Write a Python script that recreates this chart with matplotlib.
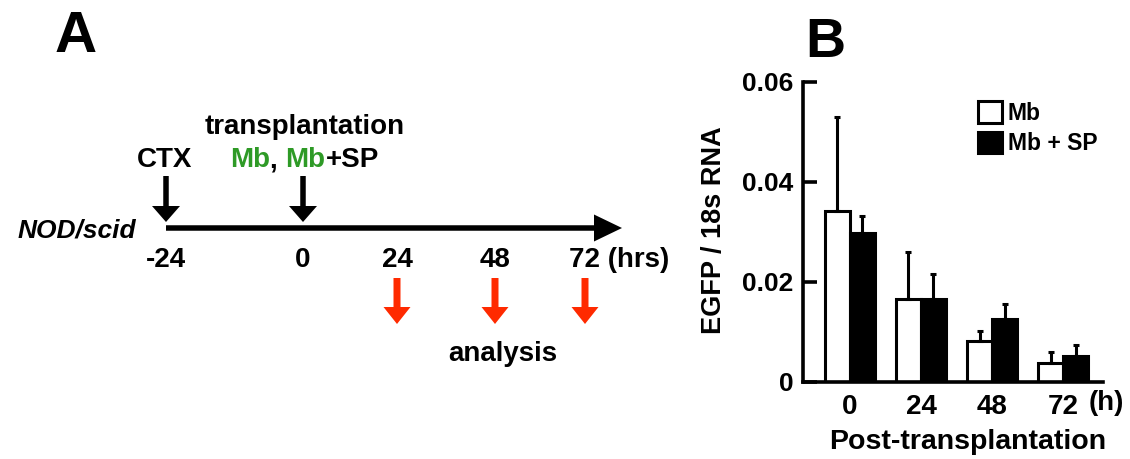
import matplotlib
matplotlib.use("Agg")
import matplotlib.pyplot as plt
from matplotlib.patches import FancyArrow, Patch

plt.rcParams['font.family'] = ['Liberation Sans', 'DejaVu Sans']

# ---- panel B data ----
timepoints = ['0', '24', '48', '72']
mb_mean = [0.0341, 0.0165, 0.0081, 0.0037]
mb_err = [0.0188, 0.0095, 0.0021, 0.0022]
mbsp_mean = [0.0297, 0.0165, 0.0125, 0.0052]
mbsp_err = [0.0034, 0.0050, 0.0031, 0.0022]
yticks = [0, 0.02, 0.04, 0.06]
ytick_labels = ['0', '0.02', '0.04', '0.06']

# ---- panel A schematic ----
time_labels = ['-24', '0', '24', '48', '72']
time_x = [166, 303, 397, 495, 585]      # schematic is not drawn to scale
analysis_idx = [2, 3, 4]

GREEN = '#2e9a26'
RED = '#ff2a00'

fig = plt.figure(figsize=(11.3, 4.59), dpi=100)

# schematic drawn in pixel units on a full-figure axes
axA = fig.add_axes([0, 0, 1, 1])
axA.set_xlim(0, 1130)
axA.set_ylim(459, 0)
axA.axis('off')

def down_arrow(x, y0, y1, color, shaft=5.5, hw=28, hl=16):
    axA.add_patch(FancyArrow(x, y0, 0, y1 - y0, width=shaft, head_width=hw,
                             head_length=hl, length_includes_head=True,
                             color=color, lw=0))

# timeline
axA.add_patch(FancyArrow(time_x[0], 228, 622 - time_x[0], 0, width=5.5,
                         head_width=27, head_length=28,
                         length_includes_head=True, color='black', lw=0))
down_arrow(time_x[0], 176, 222, 'black')
down_arrow(time_x[1], 176, 222, 'black')
for i in analysis_idx:
    down_arrow(time_x[i], 278, 324, RED, shaft=7, hw=27, hl=17)

for i, lab in enumerate(time_labels):
    if lab == '72':
        axA.text(time_x[i] - 16, 267, '72 (hrs)', fontsize=20,
                 fontweight='bold', ha='left', va='baseline')
    else:
        axA.text(time_x[i], 267, lab, fontsize=20, fontweight='bold',
                 ha='center', va='baseline')

axA.text(18, 237, 'NOD/scid', fontsize=19, fontweight='bold',
         fontstyle='italic', ha='left', va='baseline')
axA.text(165, 167, 'CTX', fontsize=20, fontweight='bold',
         ha='center', va='baseline')
axA.text(305, 134, 'transplantation', fontsize=20, fontweight='bold',
         ha='center', va='baseline')

# "Mb, Mb+SP" with green Mb
t = axA.text(230, 167, 'Mb', fontsize=20, fontweight='bold', color=GREEN,
             ha='left', va='baseline')
for piece, col in [(', ', 'black'), ('Mb', GREEN), ('+SP', 'black')]:
    t = axA.annotate(piece, xy=(1, 0), xycoords=t, fontsize=20,
                     fontweight='bold', color=col, ha='left', va='bottom')

axA.text(503, 361, 'analysis', fontsize=20, fontweight='bold',
         ha='center', va='baseline')
axA.text(76, 52, 'A', fontsize=42, fontweight='bold', ha='center',
         va='baseline')
axA.text(825, 57, 'B', fontsize=40, fontweight='bold', ha='center',
         va='baseline')

# ---- panel B bar chart ----
ax = fig.add_axes([0.7106, 0.1678, 0.2655, 0.6536])
x = list(range(len(timepoints)))
w = 0.352
x_mb = [i - w / 2 for i in x]
x_sp = [i + w / 2 for i in x]

ax.bar(x_mb, mb_mean, w, color='white', edgecolor='black', linewidth=2.2,
       zorder=2)
ax.bar(x_sp, mbsp_mean, w, color='black', edgecolor='black', linewidth=2.2,
       zorder=2)
ax.errorbar(x_mb, mb_mean, yerr=[[0] * 4, mb_err], fmt='none', ecolor='black',
            elinewidth=2.2, capsize=2.2, capthick=2.2, zorder=3)
ax.errorbar(x_sp, mbsp_mean, yerr=[[0] * 4, mbsp_err], fmt='none',
            ecolor='black', elinewidth=2.2, capsize=2.2, capthick=2.2, zorder=3)

ax.set_xlim(-0.662, 3.563)
ax.set_ylim(0, 0.06)
for s in ['top', 'right']:
    ax.spines[s].set_visible(False)
for s in ['left', 'bottom']:
    ax.spines[s].set_linewidth(2.6)
    ax.spines[s].set_capstyle('projecting')

ax.set_yticks(yticks)
ax.set_yticklabels(ytick_labels, fontsize=19, fontweight='bold')
ax.tick_params(axis='y', direction='in', length=10, width=2.6, pad=7)
ax.set_xticks(x)
ax.set_xticklabels(timepoints, fontsize=20, fontweight='bold')
ax.tick_params(axis='x', length=0, pad=9)
ax.text(0.952, -0.07, '(h)', transform=ax.transAxes, fontsize=20,
        fontweight='bold', ha='left', va='center')

ax.set_ylabel('EGFP / 18s RNA', fontsize=19.5, fontweight='bold')
ax.yaxis.set_label_coords(-0.253, 0.507)
fig.text(968 / 1130, 1 - 442 / 459, 'Post-transplantation', fontsize=20.5,
         fontweight='bold', ha='center', va='center')

handles = [Patch(facecolor='white', edgecolor='black', linewidth=2.2),
           Patch(facecolor='black', edgecolor='black', linewidth=2.2)]
ax.legend(handles, ['Mb', 'Mb + SP'], loc='upper left',
          bbox_to_anchor=(0.583, 0.935), frameon=False,
          prop={'weight': 'bold', 'size': 16.5}, handlelength=1.05,
          handleheight=1.05, handletextpad=0.25, labelspacing=0.3,
          borderpad=0, borderaxespad=0)

fig.savefig('out.png', dpi=100)
